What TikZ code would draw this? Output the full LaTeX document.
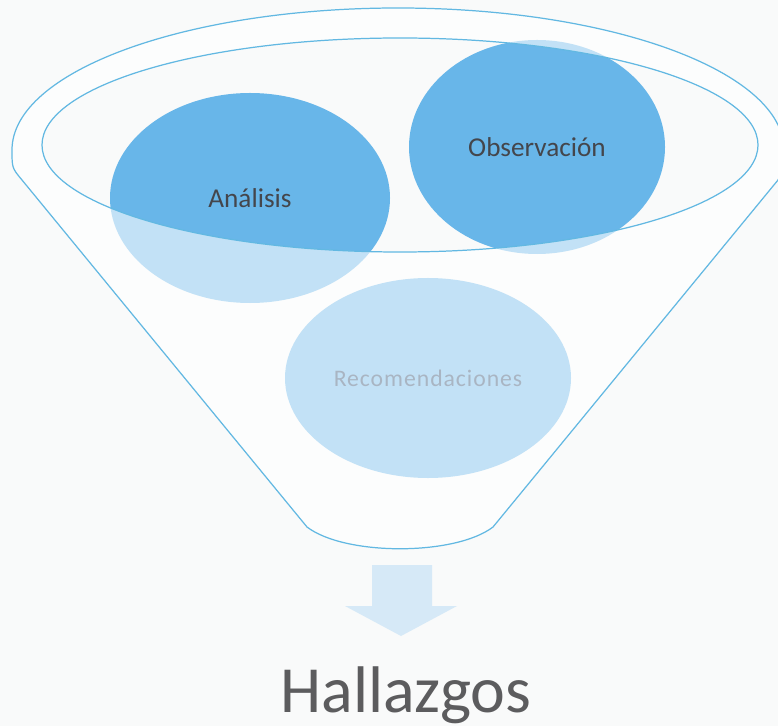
\documentclass[tikz,border=0pt]{standalone}
\usepackage{fontspec}
\setmainfont{Carlito}
\usetikzlibrary{shapes.geometric}

\definecolor{paper}{RGB}{249,250,250}
\definecolor{funnelline}{RGB}{98,184,226}
\definecolor{stageblue}{RGB}{104,182,233}
\definecolor{arrowblue}{RGB}{214,233,247}
\definecolor{labelgray}{RGB}{68,70,76}
\definecolor{hiddengray}{RGB}{40,70,105}
\definecolor{titlegray}{RGB}{92,92,94}

\begin{document}
\begin{tikzpicture}[
		x=0.2mm,
		y=-0.2mm,
		stage/.style={
			ellipse,
			fill=stageblue,
			inner sep=0pt,
			outer sep=0pt,
			text=labelgray,
			font=\fontsize{15.5}{18}\selectfont
		},
		glass/.style={
			fill=white,
			fill opacity=0.6,
			even odd rule
		},
		rim/.style={
			draw=funnelline,
			line width=0.7pt
		}
		]
		\useasboundingbox[fill=paper] (0,0) rectangle (778,726);

		\node[stage,
			  minimum width=56mm,
			  minimum height=42mm] (analisis) at (250,198) {Análisis};
		\node[stage,
			  minimum width=51.2mm,
			  minimum height=42.8mm] (observacion) at (537,147) {Observación};
		\node[stage,
			  minimum width=57.2mm,
			  minimum height=40mm,
			  text=hiddengray,
			  font=\fontsize{13.5}{16}\selectfont\addfontfeatures{LetterSpace=4}] (recomendaciones) at (428,378) {Recomendaciones};

		% funnel body, lightens what lies below the rim
		\fill[glass] (12,150) arc[start angle=180, end angle=0, x radius=77.2mm, y radius=28.4mm]
			.. controls (784,168) .. (778,180) -- (493,527)
			.. controls (455,556) and (345,556) .. (307,527) -- (22,180)
			.. controls (12,168) .. cycle
			(400,145) ellipse[x radius=71.6mm, y radius=21.4mm];

		\draw[rim] (12,150) arc[start angle=180, end angle=0, x radius=77.2mm, y radius=28.4mm]
			.. controls (784,168) .. (778,180) -- (493,527)
			.. controls (455,556) and (345,556) .. (307,527) -- (22,180)
			.. controls (12,168) .. cycle;
		\draw[rim] (400,145) ellipse[x radius=71.6mm, y radius=21.4mm];

		\fill[arrowblue] (372,565) -- (432,565) -- (432,606) -- (457,606) -- (401,636) -- (345,606) -- (372,606) -- cycle;

		\node[anchor=base,
			  text=titlegray,
			  font=\fontsize{37.5}{44}\selectfont] (hallazgos) at (406,712) {Hallazgos};
		\end{tikzpicture}
\end{document}
